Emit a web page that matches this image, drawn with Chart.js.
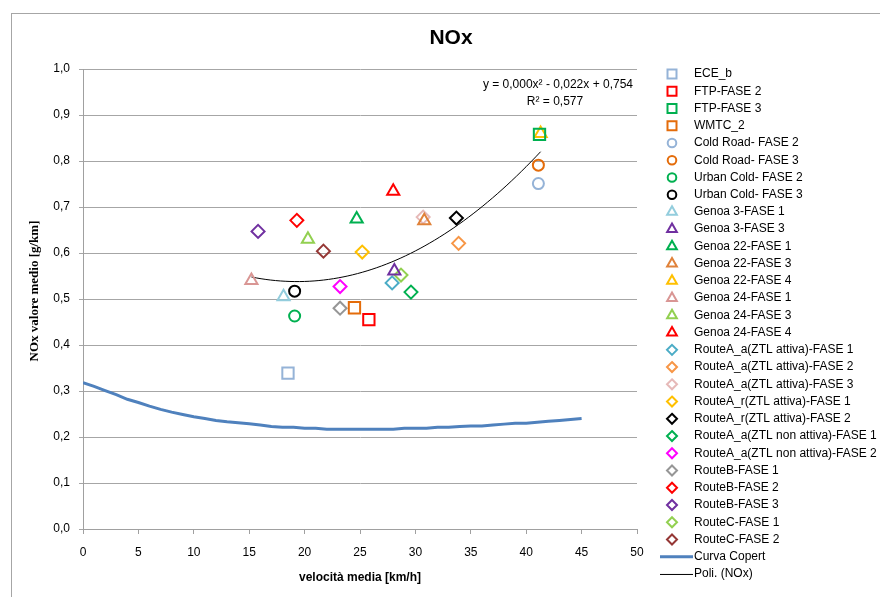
<!DOCTYPE html>
<html><head><meta charset="utf-8">
<script src="https://cdn.jsdelivr.net/npm/chart.js@4.4.1/dist/chart.umd.min.js"></script>
<style>html,body{margin:0;padding:0;background:#fff}#wrap{width:880px;height:597px;position:relative}</style>
</head><body><div id="wrap"><canvas id="c" width="880" height="597"></canvas></div>
<script>
// ---------- DATA ----------
const seriesLabels = [
  'ECE_b','FTP-FASE 2','FTP-FASE 3','WMTC_2',
  'Cold Road- FASE 2','Cold Road- FASE 3','Urban Cold- FASE 2','Urban Cold- FASE 3',
  'Genoa 3-FASE 1','Genoa 3-FASE 3','Genoa 22-FASE 1','Genoa 22-FASE 3','Genoa 22-FASE 4',
  'Genoa 24-FASE 1','Genoa 24-FASE 3','Genoa 24-FASE 4',
  'RouteA_a(ZTL attiva)-FASE 1','RouteA_a(ZTL attiva)-FASE 2','RouteA_a(ZTL attiva)-FASE 3',
  'RouteA_r(ZTL attiva)-FASE 1','RouteA_r(ZTL attiva)-FASE 2',
  'RouteA_a(ZTL non attiva)-FASE 1','RouteA_a(ZTL non attiva)-FASE 2',
  'RouteB-FASE 1','RouteB-FASE 2','RouteB-FASE 3','RouteC-FASE 1','RouteC-FASE 2'
];
const speedKmh = [18.5,25.8,41.2,24.5, 41.1,41.1,19.1,19.1, 18.1,28.1,24.7,30.8,41.3, 15.2,20.3,28.0,
  27.9,33.9,30.7, 25.2,33.7, 29.6,23.2, 23.2,19.3,15.8,28.7,21.7];
const noxGkm = [0.339,0.455,0.858,0.481, 0.751,0.791,0.463,0.517, 0.505,0.561,0.674,0.670,0.860, 0.540,0.630,0.734,
  0.535,0.621,0.678, 0.602,0.676, 0.515,0.527, 0.480,0.671,0.647,0.552,0.604];

const copertLabel = 'Curva Copert';
const copertSpeed = [0,1,2,3,4,5,6,7,8,9,10,11,12,13,14,15,16,17,18,19,20,21,22,23,24,25,26,27,28,29,30,31,32,33,34,35,36,37,38,39,40,41,42,43,44,45];
const copertNox = [0.318,0.310,0.301,0.292,0.282,0.275,0.267,0.260,0.254,0.249,0.244,0.240,0.236,0.233,0.231,0.229,0.226,0.223,0.221,0.221,
  0.219,0.219,0.217,0.217,0.217,0.217,0.217,0.217,0.217,0.219,0.219,0.219,0.221,0.221,0.223,0.224,0.224,0.226,0.228,0.230,0.230,0.232,0.234,0.236,0.238,0.240];

const trendLabel = 'Poli. (NOx)';
const xTickLabels = ['0','5','10','15','20','25','30','35','40','45','50'];
const yTickLabels = ['0,0','0,1','0,2','0,3','0,4','0,5','0,6','0,7','0,8','0,9','1,0'];
const chartTitle = 'NOx';
const xTitle = 'velocità media [km/h]';
const yTitle = 'NOx valore medio [g/km]';
const equationText = 'y = 0,000x² - 0,022x + 0,754';
const r2Text = 'R² = 0,577';

// ---------- STYLES ----------
const markerShapes = ['rect','rect','rect','rect','circle','circle','circle','circle',
  'triangle','triangle','triangle','triangle','triangle','triangle','triangle','triangle',
  'rectRot','rectRot','rectRot','rectRot','rectRot','rectRot','rectRot','rectRot','rectRot','rectRot','rectRot','rectRot'];
const markerColors = ['#95B3D7','#FF0000','#00B050','#E46C0A','#95B3D7','#E46C0A','#00B050','#000000',
  '#93CDDD','#7030A0','#00B050','#E0823A','#FFC000','#D99694','#92D050','#FF0000',
  '#4BACC6','#F79646','#E6B9B8','#FFC000','#000000','#00B050','#FF00FF','#969696','#FF0000','#7030A0','#92D050','#953735'];
const shapeRadius = {rect:8, circle:5.5, triangle:7, rectRot:6.5};
const FONT = '"Liberation Sans", Arial, sans-serif';

// ---------- trend (least-squares quadratic of all measured points) ----------
function quadFit(xs, ys){
  let S=[0,0,0,0,0], T=[0,0,0];
  for(let i=0;i<xs.length;i++){const x=xs[i],y=ys[i];let p=1;for(let k=0;k<5;k++){S[k]+=p;if(k<3)T[k]+=p*y;p*=x;}}
  const A=[[S[0],S[1],S[2],T[0]],[S[1],S[2],S[3],T[1]],[S[2],S[3],S[4],T[2]]];
  for(let i=0;i<3;i++){for(let j=i+1;j<3;j++){const f=A[j][i]/A[i][i];for(let k=i;k<4;k++)A[j][k]-=f*A[i][k];}}
  const c=[0,0,0];
  for(let i=2;i>=0;i--){let s=A[i][3];for(let k=i+1;k<3;k++)s-=A[i][k]*c[k];c[i]=s/A[i][i];}
  return c;
}
const coef = quadFit(speedKmh, noxGkm);
const xMin = Math.min(...speedKmh), xMax = Math.max(...speedKmh);
const trendPts = [];
for(let k=0;k<=60;k++){const x=xMin+(xMax-xMin)*k/60;trendPts.push({x, y:coef[0]+coef[1]*x+coef[2]*x*x});}

// ---------- datasets ----------
const datasets = seriesLabels.map((lab,i)=>({
  type:'scatter', label:lab, data:[{x:speedKmh[i], y:noxGkm[i]}],
  pointStyle:markerShapes[i], pointRadius:shapeRadius[markerShapes[i]],
  borderColor:markerColors[i], backgroundColor:'rgba(0,0,0,0)', pointBorderWidth:2, borderWidth:2,
  legendShape:markerShapes[i]
}));
datasets.push({type:'line', label:copertLabel, data:copertSpeed.map((x,i)=>({x, y:copertNox[i]})),
  borderColor:'#4F81BD', borderWidth:3, pointRadius:0, tension:0, fill:false, legendShape:'thickLine'});
datasets.push({type:'line', label:trendLabel, data:trendPts,
  borderColor:'#000000', borderWidth:1, pointRadius:0, tension:0, fill:false, legendShape:'thinLine'});

function drawMarker(ctx, shape, x, y, color){
  ctx.save(); ctx.strokeStyle=color; ctx.lineWidth=2; ctx.beginPath();
  if(shape==='rect'){ ctx.rect(x-4.5,y-4.5,9,9); }
  else if(shape==='circle'){ ctx.arc(x,y,4.3,0,Math.PI*2); }
  else if(shape==='triangle'){ const r=5.6; ctx.moveTo(x,y-r); ctx.lineTo(x+r*0.866,y+r*0.5); ctx.lineTo(x-r*0.866,y+r*0.5); ctx.closePath(); }
  else if(shape==='rectRot'){ const r=5; ctx.moveTo(x,y-r); ctx.lineTo(x+r,y); ctx.lineTo(x,y+r); ctx.lineTo(x-r,y); ctx.closePath(); }
  else if(shape==='thickLine'){ ctx.lineWidth=3; ctx.moveTo(660,y); ctx.lineTo(693,y); }
  else if(shape==='thinLine'){ ctx.lineWidth=1; ctx.moveTo(660,y+0.5); ctx.lineTo(693,y+0.5); }
  ctx.stroke(); ctx.restore();
}

const decor = {
  id:'decor',
  beforeDraw(chart){
    const ctx=chart.ctx; ctx.save();
    ctx.fillStyle='#fff'; ctx.fillRect(0,0,chart.width,chart.height);
    ctx.strokeStyle='#A6A6A6'; ctx.lineWidth=1; ctx.strokeRect(11.5,13.5,1000,1000);
    ctx.restore();
  },
  afterDraw(chart){
    const ctx=chart.ctx; ctx.save();
    ctx.fillStyle='#000';
    ctx.font='bold 21px '+FONT; ctx.textAlign='center'; ctx.textBaseline='middle';
    ctx.fillText(chartTitle, 451, 38);
    ctx.save(); ctx.translate(35, 291); ctx.rotate(-Math.PI/2);
    ctx.font='bold 13px "Liberation Serif", "Times New Roman", serif';
    ctx.fillText(yTitle, 0, 0); ctx.restore();
    ctx.font='12px '+FONT; ctx.textAlign='right';
    ctx.fillText(equationText, 633, 85);
    ctx.textAlign='center'; ctx.fillText(r2Text, 555, 102);
    // legend
    ctx.textAlign='left';
    chart.data.datasets.forEach((ds,i)=>{
      const y=74+i*17.24;
      drawMarker(ctx, ds.legendShape, 672, y, ds.borderColor);
      ctx.fillStyle='#000'; ctx.font='12px '+FONT; ctx.textBaseline='middle';
      ctx.fillText(ds.label, 694, y);
    });
    ctx.restore();
  }
};

new Chart(document.getElementById('c'), {
  data:{datasets},
  options:{
    responsive:false, animation:false, devicePixelRatio:1,
    layout:{padding:{top:69,right:243,bottom:0,left:0}},
    plugins:{legend:{display:false}, title:{display:false}, tooltip:{enabled:false}},
    scales:{
      x:{type:'linear', position:'bottom', min:0, max:50,
        ticks:{stepSize:5, autoSkip:false, maxRotation:0, padding:11, color:'#000', font:{family:FONT,size:12},
          callback:(v,i)=>xTickLabels[i]},
        grid:{drawOnChartArea:false, drawTicks:true, tickLength:5, color:'#A0A0A0'},
        border:{display:true, color:'#A0A0A0'},
        title:{display:true, text:xTitle, color:'#000', font:{family:FONT,size:12,weight:'bold'}, padding:{top:0,bottom:12}},
        afterFit:s=>{s.height=68;}
      },
      y:{type:'linear', position:'left', min:0, max:1,
        ticks:{stepSize:0.1, padding:9, color:'#000', font:{family:FONT,size:12},
          callback:(v,i)=>yTickLabels[i]},
        grid:{color:'#A6A6A6', tickLength:4, drawTicks:true},
        border:{display:true, color:'#A0A0A0'},
        afterFit:s=>{s.width=83;}
      }
    }
  },
  plugins:[decor]
});
</script></body></html>
